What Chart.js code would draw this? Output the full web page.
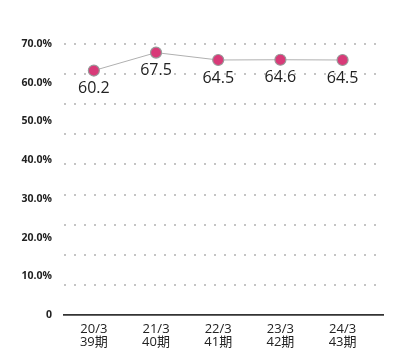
<!DOCTYPE html>
<html>
<head>
<meta charset="utf-8">
<script src="https://cdn.jsdelivr.net/npm/chart.js@4.4.1/dist/chart.umd.min.js"></script>
<style>
  html, body { margin: 0; padding: 0; background: #fff; }
  #wrap { width: 398px; height: 361px; }
</style>
</head>
<body>
<div id="wrap"><canvas id="myChart"></canvas></div>
<script>
// データ
const categories = ['20/3', '21/3', '22/3', '23/3', '24/3'];
const periods = ['39期', '40期', '41期', '42期', '43期'];
const values = [60.2, 67.5, 64.5, 64.6, 64.5];
const tickValues = [0, 10, 20, 30, 40, 50, 60, 70];

const FONT = '"Open Sans", "Noto Sans CJK JP", sans-serif';

// 点の下に数値を描く
const valueLabels = {
    id: 'valueLabels',
    afterDatasetsDraw(chart) {
        const ctx = chart.ctx;
        const meta = chart.getDatasetMeta(0);
        ctx.save();
        ctx.font = '16px ' + FONT;
        ctx.fillStyle = '#222';
        ctx.textAlign = 'center';
        ctx.textBaseline = 'middle';
        meta.data.forEach((pt, i) => {
            ctx.fillText(values[i].toFixed(1), pt.x, pt.y + 18);
        });
        ctx.restore();
    }
};

const data = {
    datasets: [{
        data: values.map((v, i) => ({ x: i, y: v })),
        yAxisID: 'yData',
        borderColor: '#b0b0b0',
        borderWidth: 1,
        pointRadius: 5.5,
        pointHoverRadius: 5.5,
        pointBackgroundColor: '#d83a78',
        pointBorderColor: '#9a9a9a',
        pointBorderWidth: 1.2,
        tension: 0
    }]
};

const config = {
    type: 'line',
    data: data,
    options: {
        responsive: true,
        maintainAspectRatio: false,
        animation: false,
        layout: { padding: { top: 44, right: 15, left: 0, bottom: 0 } },
        plugins: { legend: { display: false }, tooltip: { enabled: false } },
        scales: {
            x: {
                type: 'linear',
                min: -0.48,
                max: 4.65,
                afterBuildTicks: (scale) => { scale.ticks = categories.map((c, i) => ({ value: i })); },
                afterFit: (scale) => { scale.height = 46; },
                ticks: {
                    padding: 8,
                    color: '#222',
                    font: { family: FONT, size: 13, lineHeight: 1.0 },
                    callback: (v) => [categories[v], periods[v]]
                },
                grid: { display: false, drawTicks: false },
                border: { color: '#333', width: 1.8 }
            },
            y: {
                position: 'left',
                min: 0,
                max: 70,
                afterBuildTicks: (scale) => { scale.ticks = tickValues.map(v => ({ value: v })); },
                afterFit: (scale) => { scale.width = 64; },
                ticks: {
                    padding: 12,
                    color: '#222',
                    font: { family: FONT, size: 10.5, weight: 'bold' },
                    callback: (v) => v === 0 ? '0' : v.toFixed(1) + '%'
                },
                grid: { display: false, drawTicks: false },
                border: { display: false }
            },
            yGrid: {
                position: 'left',
                min: 0,
                max: 9,
                ticks: { display: false, stepSize: 1 },
                afterFit: (scale) => { scale.width = 0; },
                grid: {
                    drawTicks: false,
                    lineWidth: 2,
                    color: (c) => c.tick && c.tick.value === 0 ? 'rgba(0,0,0,0)' : '#c4c4c4'
                },
                border: { display: false, dash: [2, 8] }
            },
            yData: {
                display: false,
                min: -39.2,
                max: 71
            }
        }
    },
    plugins: [valueLabels]
};

const myChart = new Chart(document.getElementById('myChart'), config);
</script>
</body>
</html>
